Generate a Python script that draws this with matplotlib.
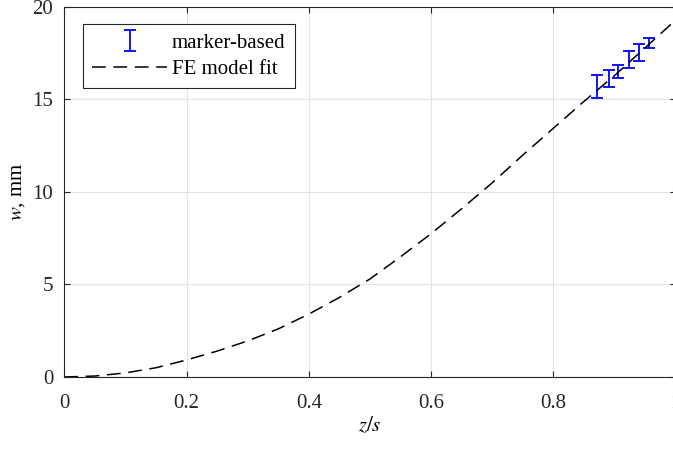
import numpy as np
import matplotlib
matplotlib.use("Agg")
import matplotlib.pyplot as plt

# FE model fit
z_fit = [0.0, 0.05, 0.1, 0.15, 0.2, 0.25, 0.3, 0.35, 0.4, 0.45, 0.5,
         0.55, 0.6, 0.65, 0.7, 0.75, 0.8, 0.85, 0.9, 0.95, 1.0]
w_fit = [0.0, 0.05, 0.22, 0.5, 0.92, 1.4, 1.95, 2.6, 3.4, 4.3, 5.3,
         6.5, 7.75, 9.1, 10.5, 12.0, 13.45, 14.9, 16.3, 17.8, 19.3]

# marker-based measurements
z_mk = [0.872, 0.891, 0.905, 0.923, 0.940, 0.956]
w_mk = [15.7, 16.15, 16.5, 17.15, 17.55, 18.03]
w_err = [0.6, 0.47, 0.36, 0.45, 0.47, 0.27]

plt.rcParams['font.family'] = 'Liberation Serif'
plt.rcParams['mathtext.fontset'] = 'stix'
plt.rcParams['font.size'] = 15

fig = plt.figure(figsize=(6.73, 4.49), dpi=100)
ax = fig.add_axes([0.0955, 0.1604, 0.9086, 0.824])

eb = ax.errorbar(z_mk, w_mk, yerr=w_err, fmt='none', ecolor='#0000ff',
                 elinewidth=1.3, capsize=4.5, capthick=1.3, label='marker-based')
fe, = ax.plot(z_fit, w_fit, color='black', lw=1.1, linestyle=(0, (9, 5)),
              label='FE model fit')

ax.set_xlim(0, 1)
ax.set_ylim(0, 20)
ax.set_xticks([0, 0.2, 0.4, 0.6, 0.8, 1.0])
ax.set_xticklabels(['0', '0.2', '0.4', '0.6', '0.8', '1'])
ax.set_yticks([0, 5, 10, 15, 20])

ax.grid(True, color='#e3e3e3', lw=0.8)
ax.set_axisbelow(True)
for s in ax.spines.values():
    s.set_color('#262626')
    s.set_linewidth(0.8)
ax.tick_params(direction='in', length=4, width=0.8, color='#262626',
               top=True, right=True, labelcolor='#262626')
ax.tick_params(axis='x', pad=12)
ax.tick_params(axis='y', pad=8)

ax.set_xlabel('$z/s$', labelpad=2)
ax.set_ylabel('$w$, mm', labelpad=4)

# errorbar first, as in the original legend
leg = ax.legend([eb, fe], ['marker-based', 'FE model fit'],
                loc='upper left', bbox_to_anchor=(0.0306, 0.954),
                borderaxespad=0, handlelength=3.6, handletextpad=0.2,
                borderpad=0.45, labelspacing=0.3, fancybox=False,
                framealpha=1, edgecolor='#262626')
leg.get_frame().set_linewidth(0.8)

fig.savefig('out.png', dpi=100)
